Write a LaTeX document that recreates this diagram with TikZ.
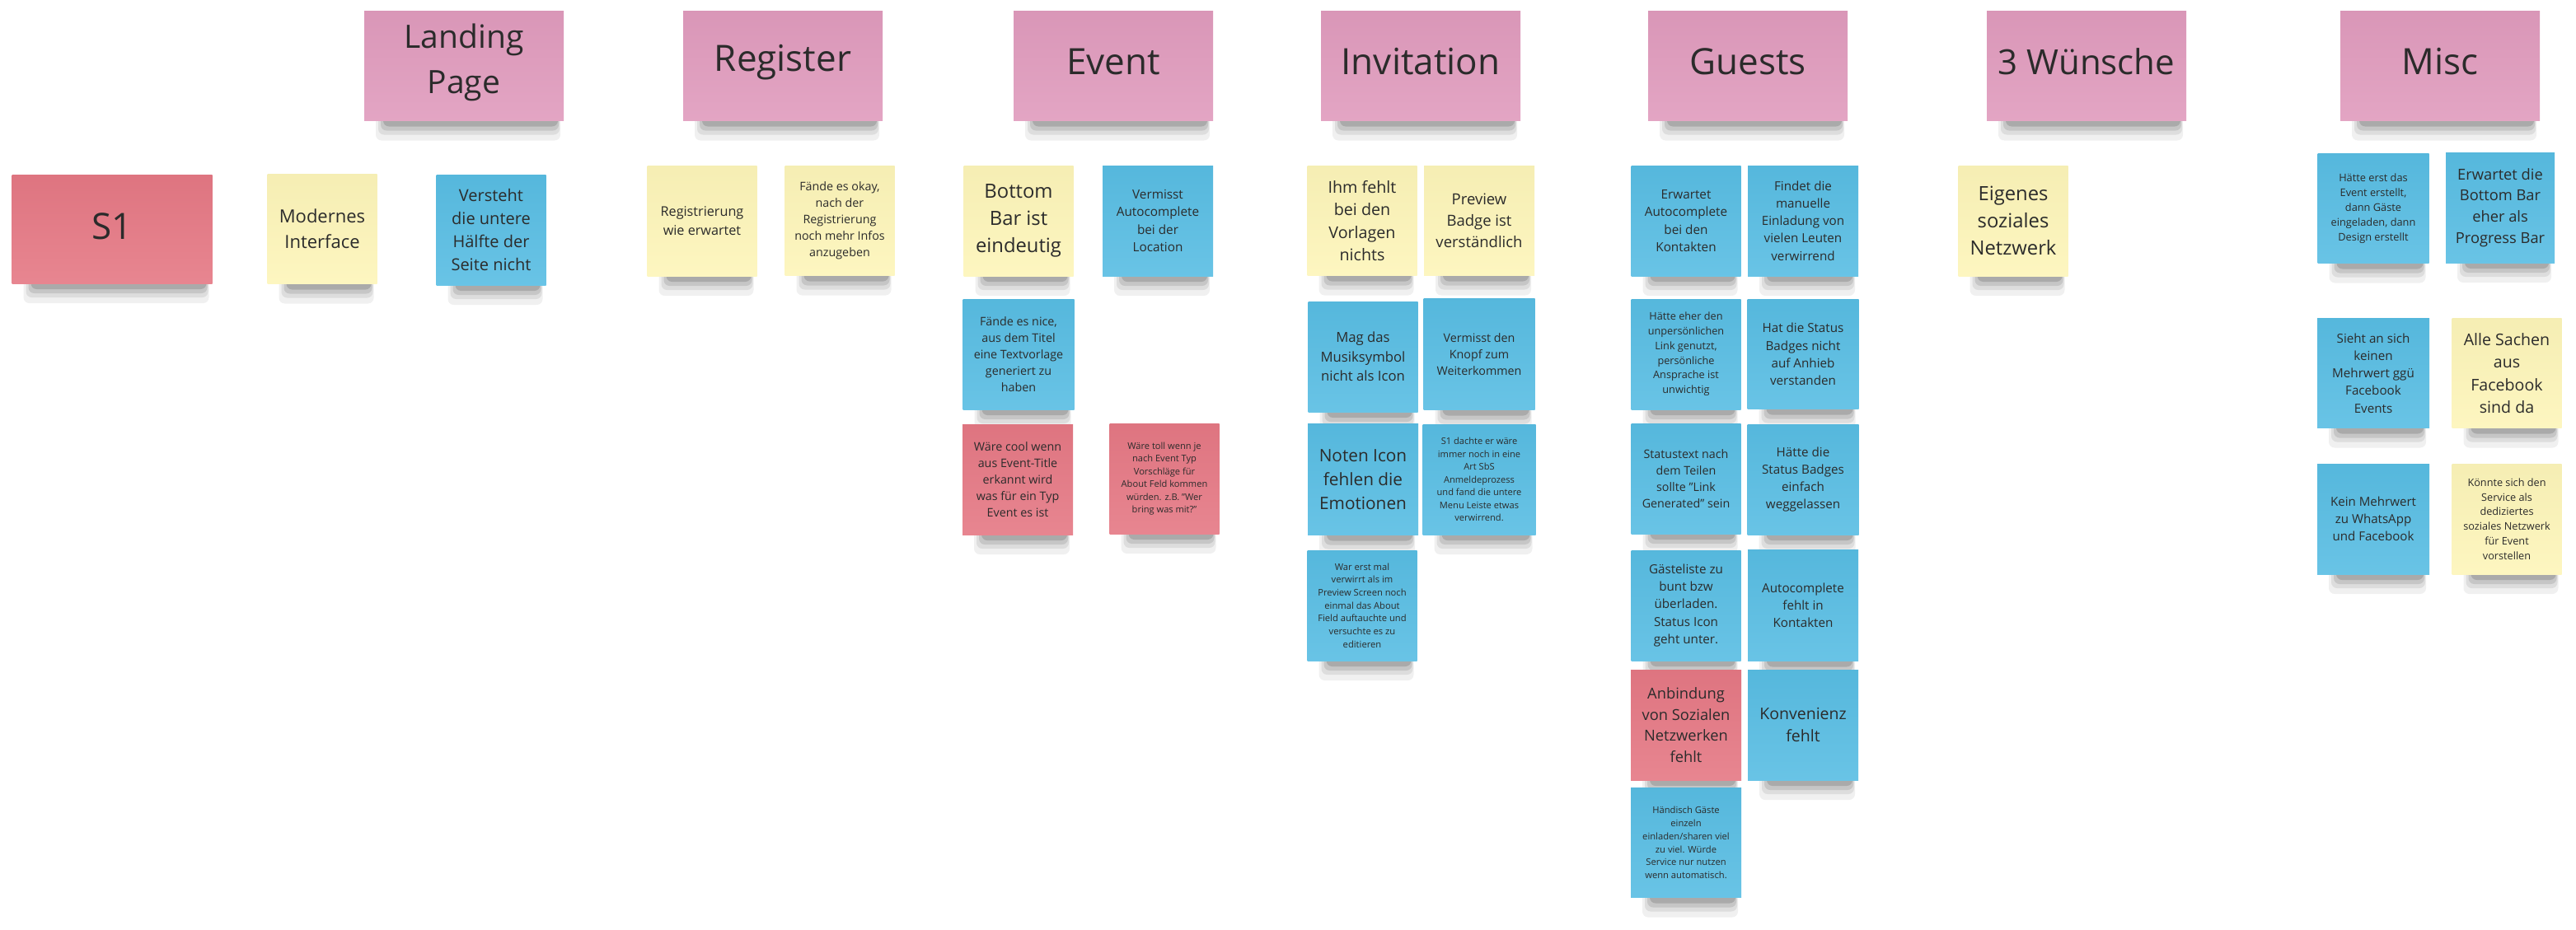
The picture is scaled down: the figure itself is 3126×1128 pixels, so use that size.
\documentclass[tikz,border=0pt]{standalone}
\usepackage{fontspec}
\setmainfont{Open Sans}
\definecolor{hdrpink}{HTML}{E09BBD}
\definecolor{notered}{HTML}{E57884}
\definecolor{noteyellow}{HTML}{FDF5B9}
\definecolor{noteblue}{HTML}{58BDE3}
\definecolor{ink}{HTML}{2B2B2B}
\tikzset{
  stickynote/.style={inner sep=0pt, anchor=center},
  stickytext/.style={inner sep=0pt, align=center, text=ink, anchor=center},
  stickyshadow/.style={fill=black, rounded corners=7pt}
}
% name, cx, cy, w, h, colour, font size, text, text lift
\newcommand\sticky[9]{%
  \pgfmathsetmacro\stkl{#2-#4/2+14}%
  \pgfmathsetmacro\stkr{#2+#4/2-4}%
  \pgfmathsetmacro\stkt{#3+#5/2-6}%
  \pgfmathsetmacro\stkbot{#3+#5/2}%
  \pgfmathsetmacro\stkskip{#7*1.4}%
  \pgfmathsetmacro\stky{#3-#9}%
  \fill[stickyshadow, opacity=.06] (\stkl,\stkt) rectangle (\stkr,\stkbot+24);
  \fill[stickyshadow, opacity=.08] (\stkl+3,\stkt) rectangle (\stkr-1,\stkbot+17);
  \fill[stickyshadow, opacity=.10] (\stkl+6,\stkt) rectangle (\stkr-2,\stkbot+12);
  \fill[stickyshadow, opacity=.14] (\stkl+9,\stkt) rectangle (\stkr-3,\stkbot+7);
  \node[stickynote, top color=#6!97!black, bottom color=#6!90!white,
        minimum width=#4pt, minimum height=#5pt] (#1) at (#2,#3) {};
  \node[stickytext, font=\fontsize{#7}{\stkskip}\selectfont] (#1text) at (#2,\stky) {#8};
}
\begin{document}
\begin{tikzpicture}[x=1pt,y=-1pt]
\useasboundingbox[fill=white] (0,0) rectangle (3126,1128);
% headers
\sticky{landing}{563}{80}{242}{133}{hdrpink}{39}{Landing\\Page}{4}
\sticky{register}{950}{80}{242}{133}{hdrpink}{44}{Register}{4}
\sticky{event}{1351}{80}{242}{133}{hdrpink}{44}{Event}{5}
\sticky{invitation}{1724}{80}{242}{133}{hdrpink}{44}{Invitation}{5}
\sticky{guests}{2121}{80}{242}{133}{hdrpink}{44}{Guests}{5}
\sticky{wuensche}{2532}{80}{242}{133}{hdrpink}{42}{3 Wünsche}{5}
\sticky{misc}{2961}{80}{242}{133}{hdrpink}{44}{Misc}{5}
% row 1
\sticky{sone}{136}{278}{243}{132}{notered}{44}{S1}{3}
\sticky{modernes}{391}{278}{133}{133}{noteyellow}{22}{Modernes\\Interface}{0}
\sticky{versteht}{596}{279}{133}{134}{noteblue}{20}{Versteht\\die untere\\Hälfte der\\Seite nicht}{0}
\sticky{regwie}{852}{268}{133}{134}{noteyellow}{16.2}{Registrierung\\wie erwartet}{0}
\sticky{faendeok}{1019}{268}{133}{133}{noteyellow}{14.3}{Fände es okay,\\nach der\\Registrierung\\noch mehr Infos\\anzugeben}{0}
\sticky{bottombar}{1236}{268}{133}{134}{noteyellow}{23.8}{Bottom\\Bar ist\\eindeutig}{0}
\sticky{vermisstauto}{1405}{268}{134}{134}{noteblue}{15.3}{Vermisst\\Autocomplete\\bei der\\Location}{0}
\sticky{ihmfehlt}{1653}{268}{133}{133}{noteyellow}{19.7}{Ihm fehlt\\bei den\\Vorlagen\\nichts}{0}
\sticky{preview}{1795}{268}{134}{133}{noteyellow}{18.5}{Preview\\Badge ist\\verständlich}{0}
\sticky{erwartetauto}{2046}{268}{133}{134}{noteblue}{15.3}{Erwartet\\Autocomplete\\bei den\\Kontakten}{0}
\sticky{findet}{2188}{268}{134}{134}{noteblue}{15.2}{Findet die\\manuelle\\Einladung von\\vielen Leuten\\verwirrend}{0}
\sticky{eigenes}{2443}{268}{133}{134}{noteyellow}{23.8}{Eigenes\\soziales\\Netzwerk}{0}
\sticky{haetteerst}{2880}{253}{135}{133}{noteblue}{12.8}{Hätte erst das\\Event erstellt,\\dann Gäste\\eingeladen, dann\\Design erstellt}{0}
\sticky{erwartetbottom}{3034}{252}{132}{134}{noteblue}{18.3}{Erwartet die\\Bottom Bar\\eher als\\Progress Bar}{0}
% row 2
\sticky{faendenice}{1236}{430}{135}{134}{noteblue}{14.3}{Fände es nice,\\aus dem Titel\\eine Textvorlage\\generiert zu\\haben}{0}
\sticky{mag}{1654}{433}{133}{134}{noteblue}{16.7}{Mag das\\Musiksymbol\\nicht als Icon}{0}
\sticky{vermisstknopf}{1795}{430}{135}{135}{noteblue}{14.3}{Vermisst den\\Knopf zum\\Weiterkommen}{0}
\sticky{haetteeher}{2046}{430}{133}{134}{noteblue}{12.7}{Hätte eher den\\unpersönlichen\\Link genutzt,\\persönliche\\Ansprache ist\\unwichtig}{0}
\sticky{hatstatus}{2188}{430}{135}{133}{noteblue}{15.2}{Hat die Status\\Badges nicht\\auf Anhieb\\verstanden}{0}
\sticky{sieht}{2880}{453}{136}{133}{noteblue}{15.2}{Sieht an sich\\keinen\\Mehrwert ggü\\Facebook\\Events}{0}
\sticky{alle}{3042}{453}{133}{133}{noteyellow}{19.6}{Alle Sachen\\aus\\Facebook\\sind da}{0}
% row 3
\sticky{waerecool}{1235}{582}{134}{134}{notered}{14.3}{Wäre cool wenn\\aus Event-Title\\erkannt wird\\was für ein Typ\\Event es ist}{0}
\sticky{waeretoll}{1413}{581}{133}{134}{notered}{11.1}{Wäre toll wenn je\\nach Event Typ\\Vorschläge für\\About Feld kommen\\würden. z.B. "Wer\\bring was mit?"}{0}
\sticky{noten}{1654}{582}{134}{135}{noteblue}{20.8}{Noten Icon\\fehlen die\\Emotionen}{0}
\sticky{sonedachte}{1795}{582}{137}{134}{noteblue}{11.1}{S1 dachte er wäre\\immer noch in eine\\Art SbS\\Anmeldeprozess\\und fand die untere\\Menu Leiste etwas\\verwirrend.}{0}
\sticky{statustext}{2046}{581}{133}{134}{noteblue}{14.3}{Statustext nach\\dem Teilen\\sollte "Link\\Generated" sein}{0}
\sticky{haettedie}{2188}{582}{135}{134}{noteblue}{15.2}{Hätte die\\Status Badges\\einfach\\weggelassen}{0}
\sticky{kein}{2880}{630}{136}{134}{noteblue}{15.1}{Kein Mehrwert\\zu WhatsApp\\und Facebook}{0}
\sticky{koennte}{3042}{630}{133}{134}{noteyellow}{12.7}{Könnte sich den\\Service als\\dediziertes\\soziales Netzwerk\\für Event\\vorstellen}{0}
% row 4
\sticky{warerst}{1653}{735}{133}{134}{noteblue}{11.2}{War erst mal\\verwirrt als im\\Preview Screen noch\\einmal das About\\Field auftauchte und\\versuchte es zu\\editieren}{0}
\sticky{gaesteliste}{2046}{735}{133}{134}{noteblue}{15.2}{Gästeliste zu\\bunt bzw\\überladen.\\Status Icon\\geht unter.}{0}
\sticky{autofehlt}{2188}{735}{134}{135}{noteblue}{15.2}{Autocomplete\\fehlt in\\Kontakten}{0}
% row 5
\sticky{anbindung}{2046}{880}{134}{134}{notered}{18.3}{Anbindung\\von Sozialen\\Netzwerken\\fehlt}{0}
\sticky{konvenienz}{2188}{880}{134}{134}{noteblue}{19.5}{Konvenienz\\fehlt}{0}
% row 6
\sticky{haendisch}{2046}{1023}{134}{133}{noteblue}{11.2}{Händisch Gäste\\einzeln\\einladen/sharen viel\\zu viel. Würde\\Service nur nutzen\\wenn automatisch.}{0}
\end{tikzpicture}
\end{document}
